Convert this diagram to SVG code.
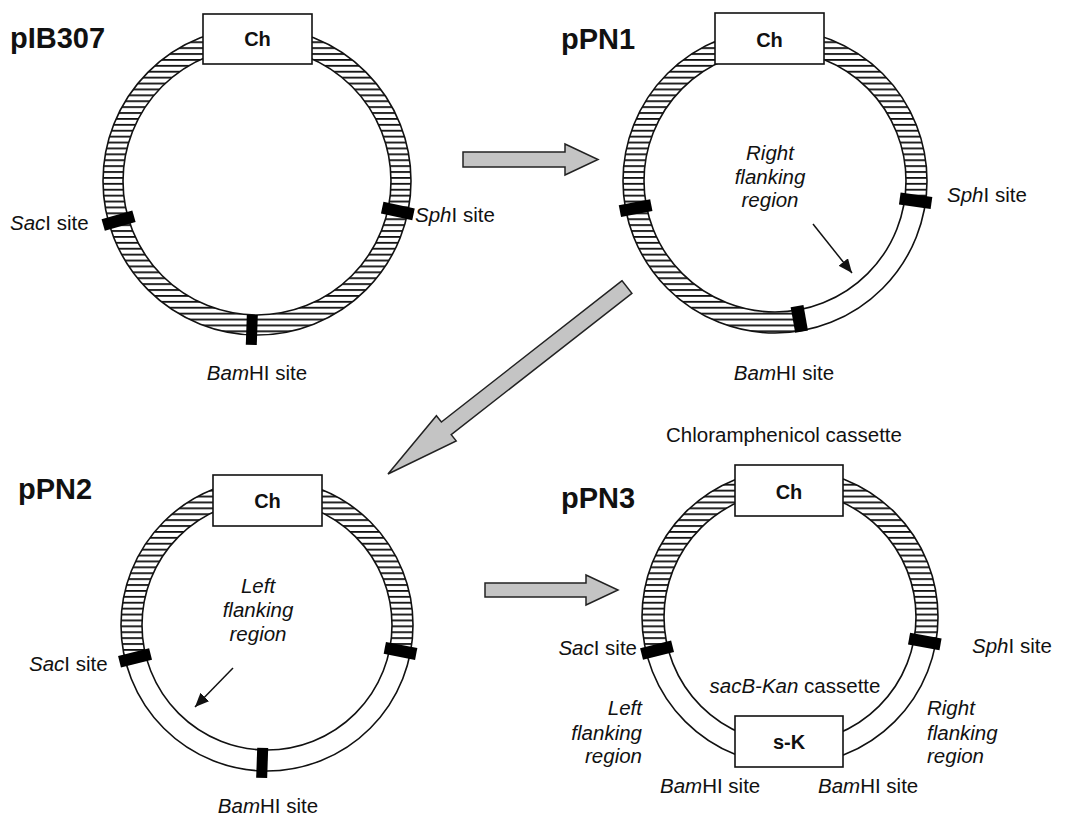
<svg xmlns="http://www.w3.org/2000/svg" width="1079" height="817" viewBox="0 0 1079 817">
<style>
text{font-family:"Liberation Sans",Arial,sans-serif;fill:#111}
.title{font-size:29px;font-weight:bold}
.lbl{font-size:20.5px}
.it{font-style:italic}
.box{fill:#fff;stroke:#111;stroke-width:1.6}
.boxt{font-size:20px;font-weight:bold;text-anchor:middle}
.ring{fill:none;stroke:#111;stroke-width:1.6}
.hatch{fill:url(#hatch);stroke:none}
.site{fill:#000}
.big{fill:#c4c4c4;stroke:#222;stroke-width:1.5;stroke-linejoin:miter}
.thin{stroke:#111;stroke-width:1.5;fill:none;marker-end:url(#ah)}
.mid{text-anchor:middle}
.end{text-anchor:end}
</style>
<defs>
<pattern id="hatch" patternUnits="userSpaceOnUse" width="12" height="5.9">
<rect width="12" height="5.9" fill="#fff"/>
<rect x="0" y="0" width="12" height="1.8" fill="#111"/>
</pattern>
<marker id="ah" markerUnits="userSpaceOnUse" markerWidth="16" markerHeight="14" refX="14" refY="6" orient="auto">
<path d="M0,0 L14,6 L0,12 Z" fill="#111"/>
</marker>
</defs>
<rect width="1079" height="817" fill="#fff"/>

<g id="connectors">
<polygon class="big" points="463,152 565,152 565,144 598,159.5 565,175 565,167 463,167"/>
<polygon class="big" points="622.1,280.7 441.4,422 436.4,415.7 388,474 456.2,440.9 451.2,434.6 631.9,293.3"/>
<polygon class="big" points="485,583 586,583 586,575 618,590 586,605 586,597 485,597"/>
</g>

<g id="pIB307">
<path class="hatch" fill-rule="evenodd" d="M103 181a154 154 0 1 0 308 0a154 154 0 1 0 -308 0ZM123 181a134 134 0 1 0 268 0a134 134 0 1 0 -268 0Z"/>
<circle class="ring" cx="257" cy="181" r="154"/>
<circle class="ring" cx="257" cy="181" r="134"/>
<rect class="box" x="203" y="14" width="109" height="50"/>
<text class="boxt" x="257.5" y="46">Ch</text>
<rect class="site" x="128" y="-6" width="32" height="12" transform="translate(257 181) rotate(164)"/>
<rect class="site" x="128" y="-6" width="32" height="12" transform="translate(257 181) rotate(12)"/>
<rect class="site" x="134" y="-5.5" width="30" height="11" transform="translate(257 181) rotate(92)"/>
<text class="title" x="10" y="48">pIB307</text>
<text class="lbl" x="10" y="230"><tspan class="it">Sac</tspan>I site</text>
<text class="lbl" x="415" y="222"><tspan class="it">Sph</tspan>I site</text>
<text class="lbl mid" x="257" y="380"><tspan class="it">Bam</tspan>HI site</text>
</g>

<g id="pPN1">
<path class="hatch" d="M801.4 330.7A152 152 0 1 1 925.5 202.2L904.7 199.2A131 131 0 1 0 797.7 310Z"/>
<circle class="ring" cx="775" cy="181" r="152"/>
<circle class="ring" cx="775" cy="181" r="131"/>
<rect class="box" x="715" y="13" width="109" height="51"/>
<text class="boxt" x="769.5" y="47">Ch</text>
<rect class="site" x="126" y="-6" width="32" height="12" transform="translate(775 181) rotate(169)"/>
<rect class="site" x="126" y="-6" width="32" height="12" transform="translate(775 181) rotate(8)"/>
<rect class="site" x="127" y="-6.5" width="26" height="13" transform="translate(775 181) rotate(80)"/>
<text class="title" x="561" y="49">pPN1</text>
<text class="lbl it mid" x="770" y="160">Right</text>
<text class="lbl it mid" x="770" y="184">flanking</text>
<text class="lbl it mid" x="770" y="207">region</text>
<line class="thin" x1="813" y1="224" x2="852" y2="273"/>
<text class="lbl" x="947" y="202"><tspan class="it">Sph</tspan>I site</text>
<text class="lbl mid" x="784" y="380"><tspan class="it">Bam</tspan>HI site</text>
</g>

<g id="pPN2">
<path class="hatch" d="M125.2 659.8A146 146 0 1 1 410.3 652.9L389.7 648.9A125 125 0 1 0 145.6 654.8Z"/>
<circle class="ring" cx="267" cy="625" r="146"/>
<circle class="ring" cx="267" cy="625" r="125"/>
<rect class="box" x="213" y="475" width="109" height="51"/>
<text class="boxt" x="267.5" y="508">Ch</text>
<rect class="site" x="120" y="-6" width="32" height="12" transform="translate(267 625) rotate(166)"/>
<rect class="site" x="120" y="-6" width="32" height="12" transform="translate(267 625) rotate(11)"/>
<rect class="site" x="123" y="-5.5" width="30" height="11" transform="translate(267 625) rotate(92)"/>
<text class="title" x="18" y="499">pPN2</text>
<text class="lbl it mid" x="258" y="593">Left</text>
<text class="lbl it mid" x="258" y="617">flanking</text>
<text class="lbl it mid" x="258" y="641">region</text>
<line class="thin" x1="233" y1="668" x2="195" y2="707"/>
<text class="lbl" x="29" y="671"><tspan class="it">Sac</tspan>I site</text>
<text class="lbl mid" x="268" y="813"><tspan class="it">Bam</tspan>HI site</text>
</g>

<g id="pPN3">
<path class="hatch" d="M646.4 652.8A148 148 0 1 1 935.6 643.5L914 639.5A126 126 0 1 0 667.7 647.5Z"/>
<circle class="ring" cx="790" cy="617" r="148"/>
<circle class="ring" cx="790" cy="617" r="126"/>
<rect class="box" x="735" y="465" width="108" height="51"/>
<text class="boxt" x="789" y="499">Ch</text>
<rect class="box" x="735" y="716" width="108" height="51"/>
<text class="boxt" x="789" y="749">s-K</text>
<rect class="site" x="121" y="-6" width="32" height="12" transform="translate(790 617) rotate(166)"/>
<rect class="site" x="121" y="-6" width="32" height="12" transform="translate(790 617) rotate(10.3)"/>
<text class="title" x="561" y="508">pPN3</text>
<text class="lbl mid" x="784" y="442">Chloramphenicol cassette</text>
<text class="lbl end" x="637" y="655"><tspan class="it">Sac</tspan>I site</text>
<text class="lbl" x="972" y="653"><tspan class="it">Sph</tspan>I site</text>
<text class="lbl mid" x="795" y="693"><tspan class="it">sacB-Kan</tspan> cassette</text>
<text class="lbl it end" x="642" y="715">Left</text>
<text class="lbl it end" x="642" y="740">flanking</text>
<text class="lbl it end" x="642" y="763">region</text>
<text class="lbl it" x="927" y="715">Right</text>
<text class="lbl it" x="927" y="740">flanking</text>
<text class="lbl it" x="927" y="763">region</text>
<text class="lbl" x="660" y="793"><tspan class="it">Bam</tspan>HI site</text>
<text class="lbl" x="818" y="793"><tspan class="it">Bam</tspan>HI site</text>
</g>
</svg>
